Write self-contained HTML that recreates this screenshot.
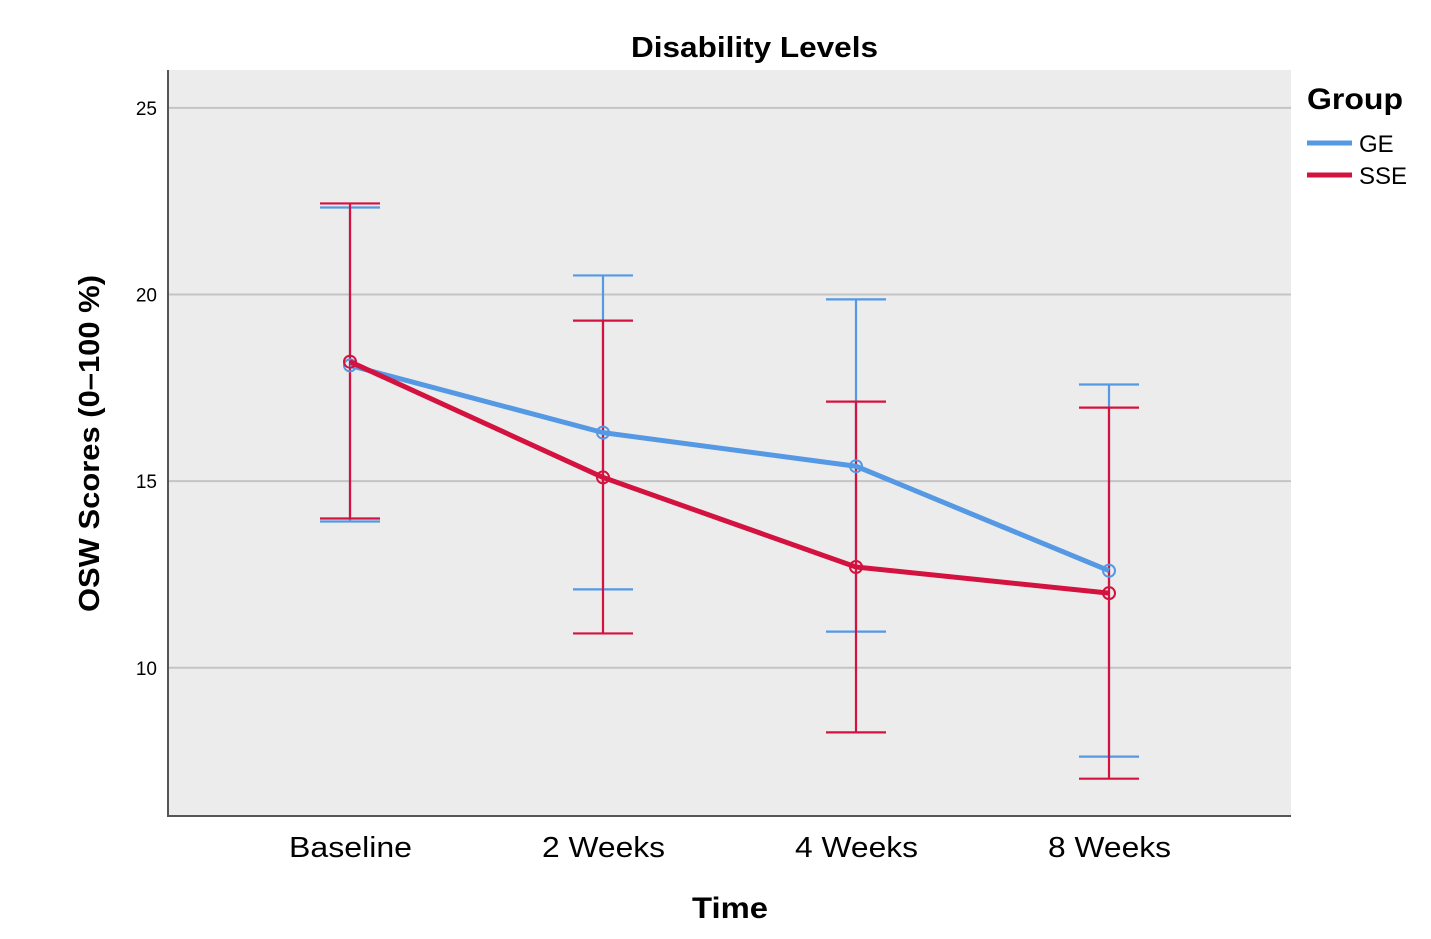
<!DOCTYPE html>
<html><head><meta charset="utf-8"><style>
body{margin:0;background:#fff;width:1431px;height:934px;overflow:hidden;font-family:"Liberation Sans",sans-serif}
</style></head><body>
<svg id="chart" width="1431" height="934" xmlns="http://www.w3.org/2000/svg">
<rect x="168" y="70" width="1123" height="746" fill="#ececec"/>
<g id="grid"></g>
<g id="series"></g>
<line x1="168" y1="70" x2="168" y2="817" stroke="#555" stroke-width="2"/>
<line x1="167" y1="816" x2="1291" y2="816" stroke="#555" stroke-width="2"/>
<text x="631" y="57" textLength="247" lengthAdjust="spacingAndGlyphs" font-size="29" font-weight="bold">Disability Levels</text>
<text transform="translate(99,612) rotate(-90)" textLength="337" lengthAdjust="spacingAndGlyphs" font-size="29" font-weight="bold">OSW Scores (0–100 %)</text>
<text x="692" y="918" textLength="76" lengthAdjust="spacingAndGlyphs" font-size="30" font-weight="bold">Time</text>
<g>
<text x="1307" y="109" textLength="96" lengthAdjust="spacingAndGlyphs" font-size="30" font-weight="bold">Group</text>
<line x1="1307" y1="143" x2="1352" y2="143" stroke="#5598e3" stroke-width="5"/>
<text x="1359" y="152" font-size="24">GE</text>
<line x1="1307" y1="175" x2="1352" y2="175" stroke="#d3123f" stroke-width="5"/>
<text x="1359" y="184" font-size="24">SSE</text>
</g>
</svg>
<script>
const categories=["Baseline","2 Weeks","4 Weeks","8 Weeks"];
const geMean=[18.1,16.3,15.4,12.6];
const geUpper=[22.33,20.51,19.87,17.59];
const geLower=[13.92,12.1,10.97,7.62];
const sseMean=[18.2,15.1,12.7,12.0];
const sseUpper=[22.44,19.3,17.13,16.97];
const sseLower=[14.0,10.92,8.27,7.03];
const yTicks=[10,15,20,25];
const NS="http://www.w3.org/2000/svg";
const svg=document.getElementById('chart');
const grid=document.getElementById('grid');
const ser=document.getElementById('series');
function y(v){return 294.5+(20-v)*37.33;}
function x(i){return 350+i*253;}
function mk(tag,attrs,parent){const e=document.createElementNS(NS,tag);for(const k in attrs)e.setAttribute(k,attrs[k]);parent.appendChild(e);return e;}
yTicks.forEach(t=>{
  const l=mk('line',{x1:168,x2:1291,y1:y(t),y2:y(t),stroke:'#c4c4c4','stroke-width':2},grid);
  
  
  const tx=mk('text',{x:157,y:y(t)+7,'text-anchor':'end','font-size':19},svg);
  tx.textContent=t;
  
  
});
categories.forEach((c,i)=>{
  const tx=mk('text',{x:x(i)-61,y:857,'font-size':29,textLength:123,lengthAdjust:'spacingAndGlyphs'},svg);
  tx.textContent=c;
  
  
});
function drawSeries(name,mean,up,lo,color){
  mean.forEach((m,i)=>{
    const g=mk('path',{d:`M${x(i)-30},${y(up[i])}H${x(i)+30}M${x(i)},${y(up[i])}V${y(lo[i])}M${x(i)-30},${y(lo[i])}H${x(i)+30}`,stroke:color,'stroke-width':2.2,fill:'none'},ser);
    
    
  });
}
function drawLine(name,mean,color){
  const p=mk('polyline',{points:mean.map((m,i)=>x(i)+','+y(m)).join(' '),stroke:color,'stroke-width':5,fill:'none','stroke-linejoin':'round'},ser);
  
  
  mean.forEach((m,i)=>{
    const c=mk('circle',{cx:x(i),cy:y(m),r:6,stroke:color,'stroke-width':2,fill:'none'},ser);
    
    
  });
}
drawSeries('ge',geMean,geUpper,geLower,'#5598e3');
drawSeries('sse',sseMean,sseUpper,sseLower,'#d3123f');
drawLine('ge',geMean,'#5598e3');
drawLine('sse',sseMean,'#d3123f');
</script>
</body></html>
